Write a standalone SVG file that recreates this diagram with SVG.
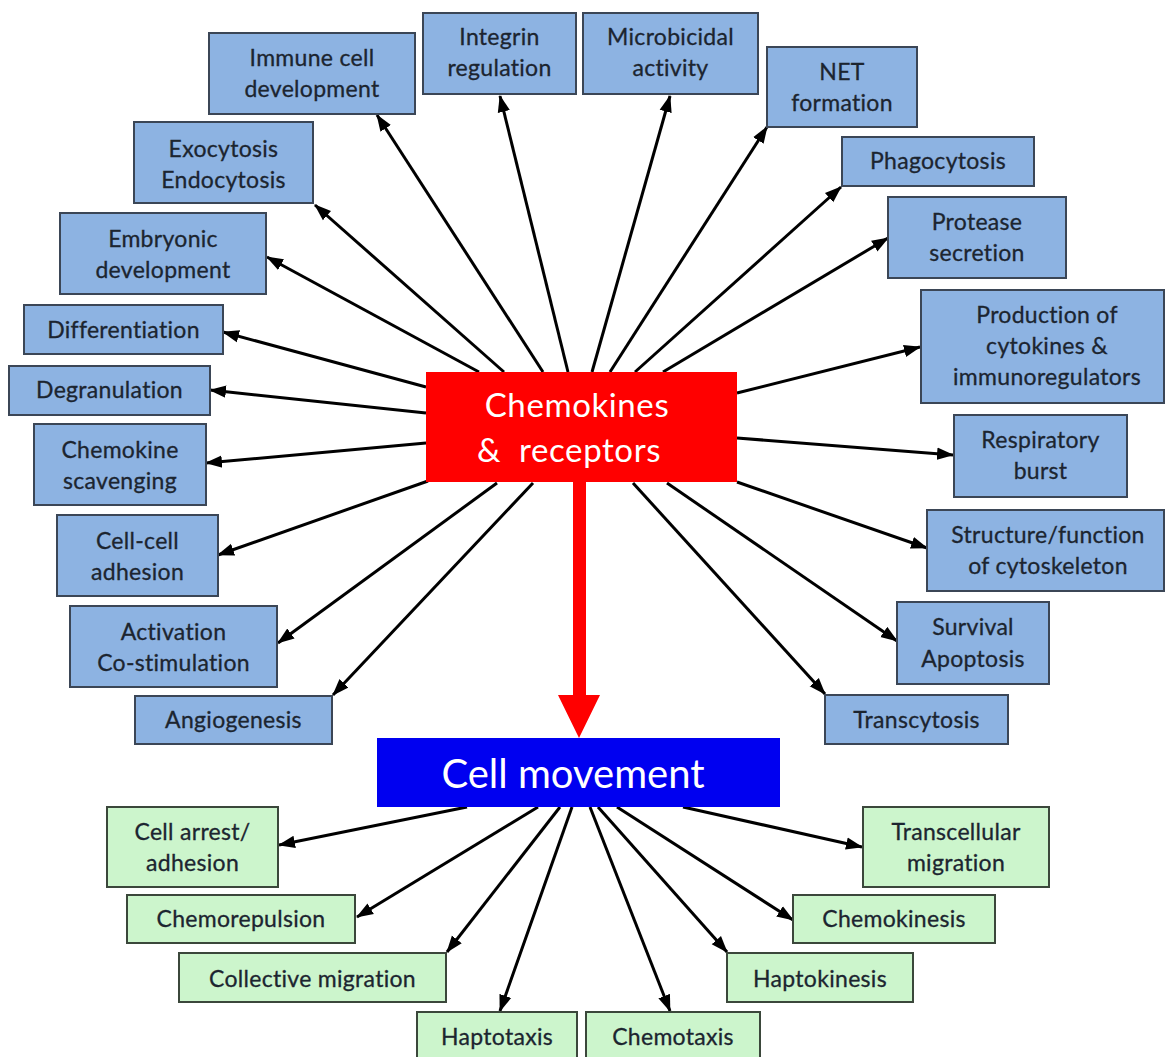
<svg xmlns="http://www.w3.org/2000/svg" width="1166" height="1057" viewBox="0 0 1166 1057">
<defs>
<style>
.b rect{fill:#8db3e2;stroke:#3b4656;stroke-width:2}
.g rect{fill:#ccf5cc;stroke:#3b473b;stroke-width:2}
text{font-family:Lato,"Open Sans","Liberation Sans",sans-serif;text-anchor:middle}
.b text,.g text{font-size:23px;letter-spacing:0.3px;fill:#1c2530;stroke:#1c2530;stroke-width:0.3}
.w{fill:#fff}
.c line{stroke:#000;stroke-width:3;marker-end:url(#ah)}
</style>
<marker id="ah" markerUnits="userSpaceOnUse" markerWidth="18" markerHeight="14" refX="16" refY="7" orient="auto"><path d="M0,0.8 L17,7 L0,13.2 z" fill="#000"/></marker>
</defs>
<rect width="1166" height="1057" fill="#fff"/>

<g id="connectors" class="c">
<line x1="543" y1="372" x2="377" y2="115"/>
<line x1="504" y1="372" x2="315" y2="205"/>
<line x1="479" y1="372" x2="267" y2="257"/>
<line x1="426" y1="387" x2="223" y2="332"/>
<line x1="426" y1="413" x2="210" y2="390"/>
<line x1="426" y1="443" x2="206" y2="463"/>
<line x1="428" y1="481" x2="218" y2="555"/>
<line x1="497" y1="483" x2="278" y2="643"/>
<line x1="533" y1="483" x2="333" y2="695"/>
<line x1="568" y1="372" x2="500" y2="96"/>
<line x1="592" y1="372" x2="670" y2="96"/>
<line x1="610" y1="372" x2="767" y2="127"/>
<line x1="635" y1="372" x2="841" y2="187"/>
<line x1="663" y1="372" x2="888" y2="238"/>
<line x1="737" y1="393" x2="920" y2="347"/>
<line x1="737" y1="438" x2="953" y2="455"/>
<line x1="737" y1="482" x2="927" y2="548"/>
<line x1="667" y1="483" x2="897" y2="641"/>
<line x1="633" y1="483" x2="825" y2="694"/>
<line x1="467" y1="807" x2="279" y2="845"/>
<line x1="538" y1="807" x2="357" y2="917"/>
<line x1="560" y1="807" x2="447" y2="952"/>
<line x1="572" y1="807" x2="500" y2="1011"/>
<line x1="590" y1="807" x2="670" y2="1011"/>
<line x1="598" y1="807" x2="727" y2="952"/>
<line x1="617" y1="807" x2="793" y2="920"/>
<line x1="683" y1="807" x2="862" y2="847"/>
<path d="M573,480 H586 V695 H600 L579,738 L558,695 H573 Z" fill="#ff0000"/>
</g>

<g id="chemokines">
<rect x="426" y="372" width="311" height="110" fill="#ff0000"/>
<text class="w" x="577" y="417" font-size="33" letter-spacing="0.6">Chemokines</text>
<text class="w" x="569" y="462" font-size="33" letter-spacing="0.6" xml:space="preserve">&amp;  receptors</text>
</g>
<g id="cellmovement">
<rect x="377" y="738" width="403" height="69" fill="#0000f0"/>
<text class="w" x="573" y="788" font-size="40">Cell movement</text>
</g>

<g id="immune" class="b"><rect x="209" y="33" width="206" height="81"/><text x="312" y="66">Immune cell</text><text x="312" y="97">development</text></g>
<g id="exocytosis" class="b"><rect x="134" y="122" width="179" height="81"/><text x="223.5" y="157">Exocytosis</text><text x="223.5" y="188">Endocytosis</text></g>
<g id="embryonic" class="b"><rect x="60" y="213" width="206" height="81"/><text x="163" y="247">Embryonic</text><text x="163" y="278">development</text></g>
<g id="differentiation" class="b"><rect x="24" y="305" width="199" height="49"/><text x="123.5" y="338">Differentiation</text></g>
<g id="degranulation" class="b"><rect x="9" y="366" width="201" height="49"/><text x="109.5" y="398">Degranulation</text></g>
<g id="scavenging" class="b"><rect x="34" y="424" width="172" height="81"/><text x="120" y="458">Chemokine</text><text x="120" y="489">scavenging</text></g>
<g id="cellcell" class="b"><rect x="57" y="515" width="161" height="81"/><text x="137.5" y="549">Cell-cell</text><text x="137.5" y="580">adhesion</text></g>
<g id="activation" class="b"><rect x="70" y="606" width="207" height="81"/><text x="173.5" y="640">Activation</text><text x="173.5" y="671">Co-stimulation</text></g>
<g id="angiogenesis" class="b"><rect x="135" y="696" width="197" height="48"/><text x="233.5" y="728">Angiogenesis</text></g>
<g id="integrin" class="b"><rect x="423" y="13" width="153" height="81"/><text x="499.5" y="45">Integrin</text><text x="499.5" y="76">regulation</text></g>
<g id="microbicidal" class="b"><rect x="583" y="13" width="175" height="81"/><text x="670.5" y="45">Microbicidal</text><text x="670.5" y="76">activity</text></g>
<g id="net" class="b"><rect x="767" y="47" width="150" height="80"/><text x="842" y="80">NET</text><text x="842" y="111">formation</text></g>
<g id="phagocytosis" class="b"><rect x="842" y="137" width="192" height="49"/><text x="938" y="169">Phagocytosis</text></g>
<g id="protease" class="b"><rect x="888" y="197" width="178" height="81"/><text x="977" y="230">Protease</text><text x="977" y="261">secretion</text></g>
<g id="production" class="b"><rect x="921" y="290" width="243" height="113"/><text x="1047" y="323">Production of</text><text x="1047" y="354">cytokines &amp;</text><text x="1047" y="385">immunoregulators</text></g>
<g id="respiratory" class="b"><rect x="954" y="415" width="173" height="82"/><text x="1040.5" y="448">Respiratory</text><text x="1040.5" y="479">burst</text></g>
<g id="cytoskeleton" class="b"><rect x="927" y="510" width="237" height="81"/><text x="1048" y="543">Structure/function</text><text x="1048" y="574">of cytoskeleton</text></g>
<g id="survival" class="b"><rect x="897" y="602" width="152" height="82"/><text x="973" y="635">Survival</text><text x="973" y="667">Apoptosis</text></g>
<g id="transcytosis" class="b"><rect x="825" y="695" width="183" height="49"/><text x="916.5" y="728">Transcytosis</text></g>

<g id="cellarrest" class="g"><rect x="107" y="807" width="171" height="80"/><text x="192.5" y="840">Cell arrest/</text><text x="192.5" y="871">adhesion</text></g>
<g id="chemorepulsion" class="g"><rect x="127" y="895" width="228" height="48"/><text x="241" y="927">Chemorepulsion</text></g>
<g id="collective" class="g"><rect x="179" y="953" width="267" height="49"/><text x="312.5" y="987">Collective migration</text></g>
<g id="haptotaxis" class="g"><rect x="417" y="1012" width="160" height="60"/><text x="497" y="1045">Haptotaxis</text></g>
<g id="chemotaxis" class="g"><rect x="586" y="1012" width="174" height="60"/><text x="673" y="1045">Chemotaxis</text></g>
<g id="haptokinesis" class="g"><rect x="727" y="953" width="186" height="49"/><text x="820" y="987">Haptokinesis</text></g>
<g id="chemokinesis" class="g"><rect x="793" y="895" width="202" height="48"/><text x="894" y="927">Chemokinesis</text></g>
<g id="transcellular" class="g"><rect x="863" y="807" width="186" height="80"/><text x="956" y="840">Transcellular</text><text x="956" y="871">migration</text></g>
</svg>
